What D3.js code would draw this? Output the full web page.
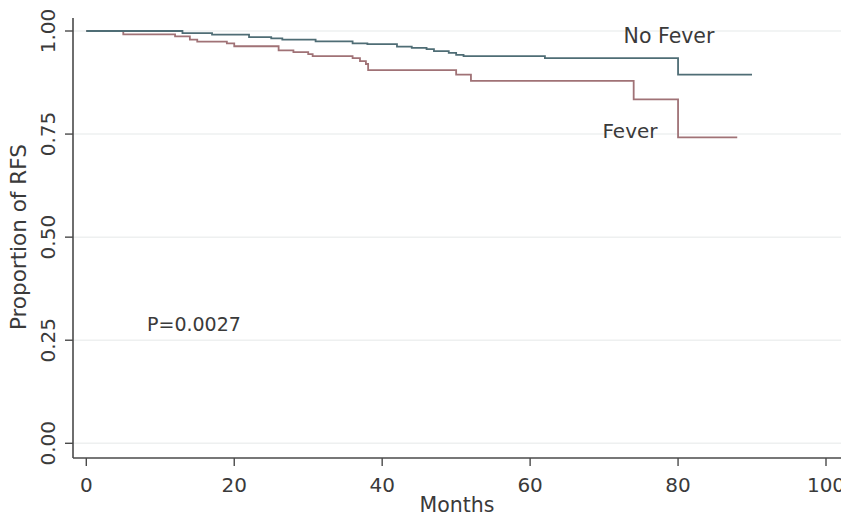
<!DOCTYPE html>
<html>
<head>
<meta charset="utf-8">
<script src="https://cdn.jsdelivr.net/npm/d3@7"></script>
<style>
  html, body { margin: 0; padding: 0; background: #fff; }
  svg { display: block; font-family: "DejaVu Sans", sans-serif; }
</style>
</head>
<body>
<svg id="chart" width="841" height="515"></svg>
<script>
// Kaplan-Meier step data
const noFeverMonths = [0, 13, 17, 22, 25, 26.5, 31, 36, 38, 42, 44, 46, 47, 49, 50, 51, 62, 80, 90];
const noFeverRFS    = [1.0, 0.995, 0.991, 0.985, 0.982, 0.979, 0.975, 0.970, 0.968, 0.962, 0.959, 0.956, 0.951, 0.947, 0.942, 0.939, 0.934, 0.894, 0.894];

const feverMonths = [0, 5, 12, 14, 15, 19, 20, 26, 28, 30, 30.6, 36, 37, 37.8, 38.1, 50, 52, 74, 80, 88];
const feverRFS    = [1.0, 0.992, 0.987, 0.979, 0.974, 0.970, 0.963, 0.953, 0.949, 0.944, 0.939, 0.934, 0.927, 0.920, 0.905, 0.894, 0.879, 0.834, 0.742, 0.742];

const xTicks = [0, 20, 40, 60, 80, 100];
const yTicks = [0, 0.25, 0.5, 0.75, 1];

const svg = d3.select("#chart");
const textColor = "#3a3a3a";
const axisColor = "#4a4a4a";

// scales (plot region as in the original Stata graph)
const x = d3.scaleLinear().domain([0, 100]).range([86.3, 826]);
const y = d3.scaleLinear().domain([0, 1]).range([443.3, 31]);
const axisX = 73, axisY = 458;

// faint gridlines
svg.append("g")
  .selectAll("line")
  .data(yTicks)
  .join("line")
  .attr("x1", axisX)
  .attr("x2", 841)
  .attr("y1", (d) => y(d))
  .attr("y2", (d) => y(d))
  .attr("stroke", "#eef0f0")
  .attr("stroke-width", 1.5);

// axis lines
svg.append("line")
  .attr("x1", axisX).attr("x2", axisX)
  .attr("y1", 18).attr("y2", axisY)
  .attr("stroke", axisColor).attr("stroke-width", 1.6);
svg.append("line")
  .attr("x1", axisX).attr("x2", 841)
  .attr("y1", axisY).attr("y2", axisY)
  .attr("stroke", axisColor).attr("stroke-width", 1.6);

// y ticks + rotated labels
const yt = svg.append("g");
yt.selectAll("line")
  .data(yTicks)
  .join("line")
  .attr("x1", axisX - 8)
  .attr("x2", axisX)
  .attr("y1", (d) => y(d))
  .attr("y2", (d) => y(d))
  .attr("stroke", axisColor)
  .attr("stroke-width", 1.4);
yt.selectAll("text")
  .data(yTicks)
  .join("text")
  .attr("transform", (d) => `translate(55,${y(d)}) rotate(-90)`)
  .attr("text-anchor", "middle")
  .attr("font-size", 20)
  .attr("fill", textColor)
  .text((d) => d3.format(".2f")(d));

// x ticks + labels
const xt = svg.append("g");
xt.selectAll("line")
  .data(xTicks)
  .join("line")
  .attr("x1", (d) => x(d))
  .attr("x2", (d) => x(d))
  .attr("y1", axisY)
  .attr("y2", axisY + 8)
  .attr("stroke", axisColor)
  .attr("stroke-width", 1.4);
xt.selectAll("text")
  .data(xTicks)
  .join("text")
  .attr("x", (d) => x(d))
  .attr("y", 492)
  .attr("text-anchor", "middle")
  .attr("font-size", 20)
  .attr("fill", textColor)
  .text((d) => d);

// axis titles
svg.append("text")
  .attr("x", 457).attr("y", 512)
  .attr("text-anchor", "middle")
  .attr("font-size", 20.5)
  .attr("fill", textColor)
  .text("Months");
svg.append("text")
  .attr("transform", `translate(26,${y(0.5)}) rotate(-90)`)
  .attr("text-anchor", "middle")
  .attr("font-size", 21.5)
  .attr("fill", textColor)
  .text("Proportion of RFS");

// survival curves
const line = d3.line()
  .x((d) => x(d[0]))
  .y((d) => y(d[1]))
  .curve(d3.curveStepAfter);

svg.append("path")
  .datum(d3.zip(feverMonths, feverRFS))
  .attr("d", line)
  .attr("fill", "none")
  .attr("stroke", "#a07276")
  .attr("stroke-width", 1.8);

svg.append("path")
  .datum(d3.zip(noFeverMonths, noFeverRFS))
  .attr("d", line)
  .attr("fill", "none")
  .attr("stroke", "#4f6d75")
  .attr("stroke-width", 1.8);

// annotations
svg.append("text")
  .attr("x", 669).attr("y", 42.5)
  .attr("text-anchor", "middle")
  .attr("font-size", 20.5)
  .attr("fill", textColor)
  .text("No Fever");
svg.append("text")
  .attr("x", 630).attr("y", 138)
  .attr("text-anchor", "middle")
  .attr("font-size", 20)
  .attr("fill", textColor)
  .text("Fever");
svg.append("text")
  .attr("x", 147).attr("y", 331)
  .attr("font-size", 19)
  .attr("fill", textColor)
  .text("P=0.0027");
</script>
</body>
</html>
